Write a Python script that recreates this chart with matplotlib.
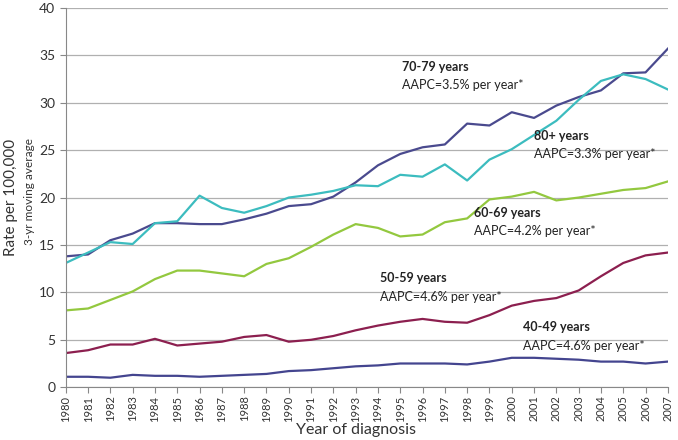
"""
年齢階級別の発生率（3年移動平均）の推移を折れ線グラフで描く。
"""
import matplotlib
matplotlib.use("Agg")
import matplotlib.pyplot as plt

plt.rcParams['font.family'] = ['Lato', 'DejaVu Sans']

years = list(range(1980, 2008))

# 各年齢階級の値
rate_70_79 = [13.8, 14.0, 15.5, 16.2, 17.3, 17.3, 17.2, 17.2, 17.7, 18.3,
              19.1, 19.3, 20.1, 21.6, 23.4, 24.6, 25.3, 25.6, 27.8, 27.6,
              29.0, 28.4, 29.7, 30.6, 31.3, 33.1, 33.2, 35.7]
rate_80_plus = [13.1, 14.2, 15.3, 15.1, 17.3, 17.5, 20.2, 18.9, 18.4, 19.1,
                20.0, 20.3, 20.7, 21.3, 21.2, 22.4, 22.2, 23.5, 21.8, 24.0,
                25.1, 26.6, 28.1, 30.3, 32.3, 33.0, 32.5, 31.4]
rate_60_69 = [8.1, 8.3, 9.2, 10.1, 11.4, 12.3, 12.3, 12.0, 11.7, 13.0,
              13.6, 14.8, 16.1, 17.2, 16.8, 15.9, 16.1, 17.4, 17.8, 19.8,
              20.1, 20.6, 19.7, 20.0, 20.4, 20.8, 21.0, 21.7]
rate_50_59 = [3.6, 3.9, 4.5, 4.5, 5.1, 4.4, 4.6, 4.8, 5.3, 5.5,
              4.8, 5.0, 5.4, 6.0, 6.5, 6.9, 7.2, 6.9, 6.8, 7.6,
              8.6, 9.1, 9.4, 10.2, 11.7, 13.1, 13.9, 14.2]
rate_40_49 = [1.1, 1.1, 1.0, 1.3, 1.2, 1.2, 1.1, 1.2, 1.3, 1.4,
              1.7, 1.8, 2.0, 2.2, 2.3, 2.5, 2.5, 2.5, 2.4, 2.7,
              3.1, 3.1, 3.0, 2.9, 2.7, 2.7, 2.5, 2.7]

series = [
    (rate_70_79, "#4a4a8e"),
    (rate_80_plus, "#3cbcbf"),
    (rate_60_69, "#93c83f"),
    (rate_50_59, "#8c1f4f"),
    (rate_40_49, "#44458f"),
]

# ラベル: (名前, AAPC, x, y)
labels = [
    ("70-79 years", "AAPC=3.5% per year*", 1995.1, 33.8),
    ("80+ years", "AAPC=3.3% per year*", 2001.0, 26.5),
    ("60-69 years", "AAPC=4.2% per year*", 1998.3, 18.4),
    ("50-59 years", "AAPC=4.6% per year*", 1994.1, 11.5),
    ("40-49 years", "AAPC=4.6% per year*", 2000.5, 6.3),
]

fig = plt.figure(figsize=(6.78, 4.4), dpi=100)
ax = fig.add_axes([0.097, 0.12, 0.888, 0.862])

for vals, color in series:
    ax.plot(years, vals, color=color, linewidth=1.6)

for name, aapc, x, y in labels:
    ax.text(x, y, name, fontsize=9, fontweight='bold', color='#222222', va='center')
    ax.text(x, y - 1.95, aapc, fontsize=9, color='#222222', va='center')

ax.set_xlim(1980, 2007)
ax.set_ylim(0, 40)
ax.set_xticks(years)
ax.set_xticklabels([str(y) for y in years], rotation=90, fontsize=8, color='#333333')
ax.set_yticks(range(0, 41, 5))
ax.tick_params(axis='y', labelsize=10, colors='#333333', length=4, color='#888888')
ax.tick_params(axis='x', length=4, pad=2, color='#888888')
ax.grid(axis='y', color='#b0b0b0', linewidth=0.9)
ax.set_axisbelow(True)
for s in ['top', 'right']:
    ax.spines[s].set_visible(False)
for s in ['left', 'bottom']:
    ax.spines[s].set_color('#888888')

fig.text(0.016, 0.552, "Rate per 100,000", rotation=90, fontsize=11, color='#333333',
         ha='center', va='center')
fig.text(0.043, 0.565, "3-yr moving average", rotation=90, fontsize=8.5, color='#333333',
         ha='center', va='center')
fig.text(0.525, 0.022, "Year of diagnosis", fontsize=11.5, color='#333333',
         ha='center', va='center')

fig.savefig("out.png", dpi=100)
